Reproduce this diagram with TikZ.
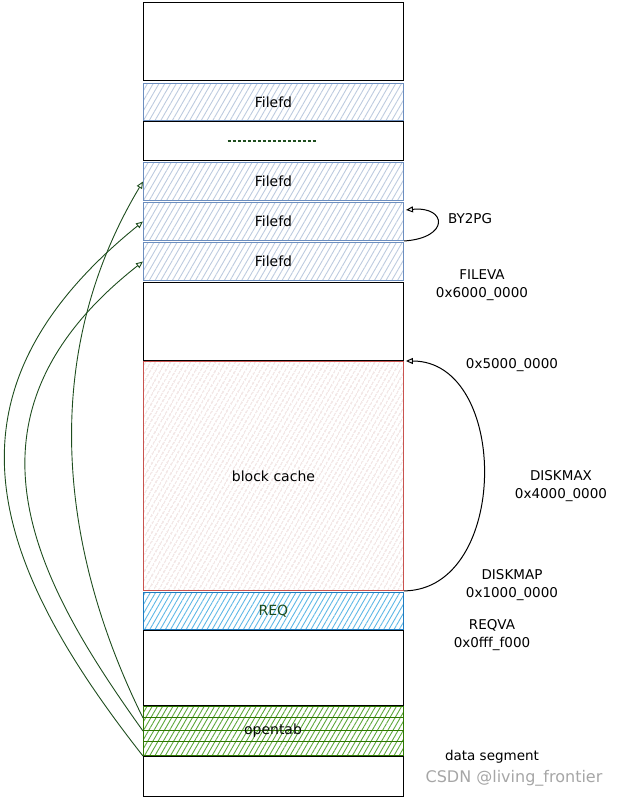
\documentclass[tikz,border=0pt]{standalone}
\usepackage{fontspec}
\setmainfont{DejaVu Sans}
\usepackage{tikz}
\usetikzlibrary{calc, patterns.meta, arrows.meta}

\definecolor{fdline}{HTML}{6C8EBF}
\definecolor{fdhatch}{HTML}{BDCBDF}
\definecolor{cacheline}{HTML}{C9534F}
\definecolor{cachehatch}{HTML}{DCBDBB}
\definecolor{reqline}{HTML}{1F7BC0}
\definecolor{reqhatch}{HTML}{5FB8E6}
\definecolor{otline}{HTML}{2D7600}
\definecolor{othatch}{HTML}{5DA83A}
\definecolor{linkgreen}{HTML}{1E4D1E}

\tikzset{
	mem/.style = {draw, line width=1pt, minimum width=260pt, inner sep=0pt, anchor=north west, font=\fontsize{14}{16}\selectfont},
	hatch/.style 2 args = {pattern={Lines[angle=60, distance=#2, line width=0.9pt]}, pattern color=#1},
	addr/.style = {align=center, font=\fontsize{13.5}{18}\selectfont},
	link/.style = {draw=linkgreen, line width=0.9pt, -{Triangle[open, length=7pt, width=6pt]}},
	back/.style = {line width=1pt, -{Triangle[open, length=7pt, width=6pt]}},
}

\begin{document}
\begin{tikzpicture}[x=1pt, y=-1pt]
		\def\L{143};
		
		\useasboundingbox (0,0) rectangle (625,799);
		
		% memory blocks, top to bottom
		\node [mem, minimum height=78pt] (free1) at (\L,2) {};
		\node [mem, minimum height=37pt, draw=fdline, hatch={fdhatch}{5pt}] (filefd0) at (\L,83) {Filefd};
		\node [mem, minimum height=39pt] (dots) at (\L,121) {};
		\node [mem, minimum height=38pt, draw=fdline, hatch={fdhatch}{5pt}] (filefd1) at (\L,162) {Filefd};
		\node [mem, minimum height=38pt, draw=fdline, hatch={fdhatch}{5pt}] (filefd2) at (\L,202) {Filefd};
		\node [mem, minimum height=38pt, draw=fdline, hatch={fdhatch}{5pt}] (filefd3) at (\L,242) {Filefd};
		\node [mem, minimum height=78pt] (free2) at (\L,282) {};
		\node [mem, minimum height=229pt, draw=cacheline, hatch={cachehatch}{4pt}] (cache) at (\L,361) {block cache};
		\node [mem, minimum height=37pt, draw=reqline, hatch={reqhatch}{4.5pt}, text=linkgreen] (req) at (\L,592) {REQ};
		\node [mem, minimum height=75pt] (free3) at (\L,630) {};
		\node [mem, minimum height=11pt, draw=otline, hatch={othatch}{4.5pt}] (ot1) at (\L,706) {};
		\node [mem, minimum height=13pt, draw=otline, hatch={othatch}{4.5pt}] (ot2) at (\L,717) {};
		\node [mem, minimum height=11pt, draw=otline, hatch={othatch}{4.5pt}] (ot3) at (\L,730) {};
		\node [mem, minimum height=14pt, draw=otline, hatch={othatch}{4.5pt}] (ot4) at (\L,741) {};
		\node [mem, minimum height=40pt] (data) at (\L,756) {};
		\node [font=\fontsize{14}{16}\selectfont, text=black!85!linkgreen] (opentab) at (273,731) {opentab};
		
		\draw [linkgreen, line width=1.3pt, dash pattern=on 3pt off 2pt] ($(dots.center)+(-46,0)$) -- ($(dots.center)+(42,0)$);
		
		% pointers from opentab to the Filefd pages
		\draw [link] (ot1.south west) .. controls (55,540) and (42,350) .. (filefd1.west);
		\draw [link] (ot2.south west) .. controls (35,580) and (-55,417) .. (filefd3.west);
		\draw [link] (ot4.south west) .. controls (-15,555) and (-65,390) .. (filefd2.west);
		
		\draw [back] (filefd2.south east) .. controls (450,238) and (447,206) .. ($(filefd2.north east)+(2,8)$);
		\draw [back] (cache.south east) .. controls (510,590) and (510,361) .. ($(cache.north east)+(2,0)$);
		
		% addresses
		\node [addr] (by2pg) at (470,219) {BY2PG};
		\node [addr] (fileva) at (482,285) {FILEVA\\0x6000\_0000};
		\node [addr] (a5000) at (512,365) {0x5000\_0000};
		\node [addr] (diskmax) at (561,486) {DISKMAX\\0x4000\_0000};
		\node [addr] (diskmap) at (512,585) {DISKMAP\\0x1000\_0000};
		\node [addr] (reqva) at (492,635) {REQVA\\0x0fff\_f000};
		\node [addr] (dataseg) at (492,757) {data segment};
		\node [text=gray!70, font=\fontsize{16}{18}\selectfont] (mark) at (514,778) {CSDN @living\_frontier};
	\end{tikzpicture}
\end{document}
